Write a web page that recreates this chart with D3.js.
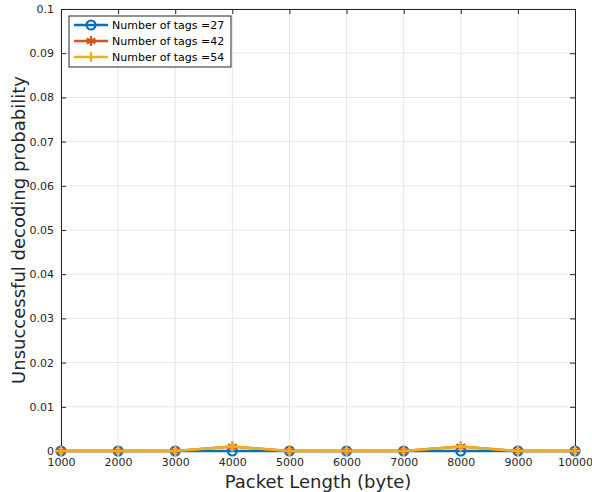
<!DOCTYPE html>
<html>
<head>
<meta charset="utf-8">
<script src="https://cdn.jsdelivr.net/npm/d3@7"></script>
<style>
body{margin:0;background:#fff;}
svg{display:block;font-family:"DejaVu Sans",sans-serif;}
</style>
</head>
<body>
<div id="chart"></div>
<script>
var packetLength = [1000,2000,3000,4000,5000,6000,7000,8000,9000,10000]
var tags27 = [0,0,0,0,0,0,0,0,0,0]
var tags42 = [0,0,0,0.001,0,0,0,0.001,0,0]
var tags54 = [0,0,0,0.001,0,0,0,0.001,0,0]
var seriesNames = ["Number of tags =27","Number of tags =42","Number of tags =54"]
var xTicks = [1000,2000,3000,4000,5000,6000,7000,8000,9000,10000]
var yTicks = [0,0.01,0.02,0.03,0.04,0.05,0.06,0.07,0.08,0.09,0.1]

var colors = ["#0072BD","#D95319","#EDB120"]
var markers = ["circle","asterisk","plus"]

var width = 592, height = 492
var margin = {top: 9, right: 17, bottom: 41, left: 61}
var w = width - margin.left - margin.right,
	h = height - margin.top - margin.bottom

var xScale = d3.scaleLinear().domain([1000,10000]).range([0,w])
var yScale = d3.scaleLinear().domain([0,0.1]).range([h,0])

var svg = d3.select("#chart").append("svg")
	.attr("width",width)
	.attr("height",height)

var g = svg.append("g")
	.attr("transform","translate(" + margin.left + "," + margin.top + ")")

// grid
g.selectAll(".gx").data(xTicks).enter().append("line")
	.attr("x1",function(d){return xScale(d)})
	.attr("x2",function(d){return xScale(d)})
	.attr("y1",0).attr("y2",h)
	.attr("stroke","#e6e6e6").attr("stroke-width",1)
g.selectAll(".gy").data(yTicks).enter().append("line")
	.attr("y1",function(d){return yScale(d)})
	.attr("y2",function(d){return yScale(d)})
	.attr("x1",0).attr("x2",w)
	.attr("stroke","#e6e6e6").attr("stroke-width",1)

// axes (MATLAB style inward ticks)
var fmtY = function(d){return d===0 ? "0" : d3.format(".2~f")(d)}
var xAxis = g.append("g").attr("transform","translate(0," + h + ")")
	.call(d3.axisBottom(xScale).tickValues(xTicks).tickSizeInner(-5).tickSizeOuter(0).tickPadding(7).tickFormat(d3.format("d")))
var xAxisTop = g.append("g")
	.call(d3.axisTop(xScale).tickValues(xTicks).tickSizeInner(-5).tickSizeOuter(0).tickFormat(""))
var yAxis = g.append("g")
	.call(d3.axisLeft(yScale).tickValues(yTicks).tickSizeInner(-5).tickSizeOuter(0).tickPadding(7).tickFormat(fmtY))
var yAxisR = g.append("g").attr("transform","translate(" + w + ",0)")
	.call(d3.axisRight(yScale).tickValues(yTicks).tickSizeInner(-5).tickSizeOuter(0).tickFormat(""))

;[xAxis,xAxisTop,yAxis,yAxisR].forEach(function(a){
	a.selectAll("path").attr("stroke","#262626").attr("stroke-width",1)
	a.selectAll("line").attr("stroke","#262626")
	a.selectAll("text").attr("fill","#262626").attr("font-size","11px")
		.attr("font-family","DejaVu Sans")
})

// data lines
var allSeries = [tags27,tags42,tags54]
var line = d3.line()
	.x(function(d,i){return xScale(packetLength[i])})
	.y(function(d){return yScale(d)})

function drawMarker(sel,type,color){
	if(type==="circle"){
		sel.append("circle").attr("r",4.5).attr("fill","none")
			.attr("stroke",color).attr("stroke-width",2.2)
	} else if(type==="asterisk"){
		sel.append("path").attr("d",d3.symbol().type(d3.symbolAsterisk).size(70))
			.attr("stroke",color).attr("stroke-width",2.2).attr("fill","none")
	} else {
		sel.append("path").attr("d","M-5,0H5M0,-5V5")
			.attr("stroke",color).attr("stroke-width",2.2).attr("fill","none")
	}
}

allSeries.forEach(function(s,k){
	g.append("path").datum(s)
		.attr("d",line)
		.attr("fill","none")
		.attr("stroke",colors[k])
		.attr("stroke-width",2.5)
		.attr("stroke-linejoin","round")
	g.selectAll(".m"+k).data(s).enter().append("g")
		.attr("transform",function(d,i){return "translate(" + xScale(packetLength[i]) + "," + yScale(d) + ")"})
		.each(function(){drawMarker(d3.select(this),markers[k],colors[k])})
})

// axis labels
svg.append("text")
	.attr("x",margin.left + w/2).attr("y",488)
	.attr("text-anchor","middle").attr("font-size","18px").attr("fill","#262626")
	.text("Packet Length (byte)")
svg.append("text")
	.attr("transform","translate(25," + (margin.top + h/2) + ") rotate(-90)")
	.attr("text-anchor","middle").attr("font-size","18px").attr("fill","#262626")
	.text("Unsuccessful decoding probability")

// legend
var lg = svg.append("g").attr("transform","translate(69,16)")
lg.append("rect").attr("width",162).attr("height",51)
	.attr("fill","#fff").attr("stroke","#262626").attr("stroke-width",1)
seriesNames.forEach(function(name,k){
	var row = lg.append("g").attr("transform","translate(0," + (9 + k*16) + ")")
	row.append("line").attr("x1",5).attr("x2",39).attr("y1",0).attr("y2",0)
		.attr("stroke",colors[k]).attr("stroke-width",2.5)
	var m = row.append("g").attr("transform","translate(22,0)")
	drawMarker(m,markers[k],colors[k])
	row.append("text").attr("x",43).attr("y",4).attr("font-size","11px")
		.attr("fill","#000").text(name)
})
</script>
</body>
</html>
